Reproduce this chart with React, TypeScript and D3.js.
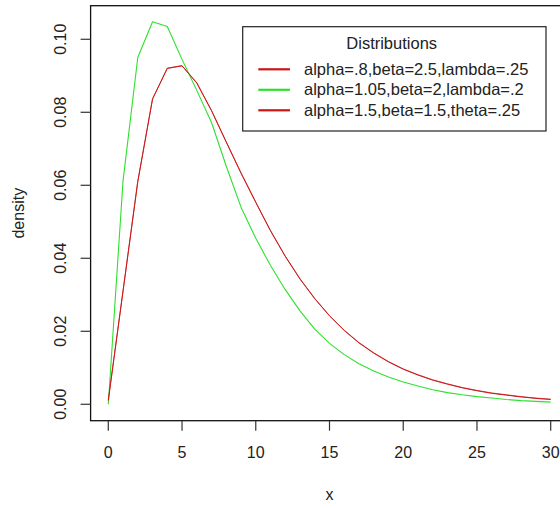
import React from "react";
import * as d3 from "d3";

const xs = [0,1,2,3,4,5,6,7,8,9,10,11,12,13,14,15,16,17,18,19,20,21,22,23,24,25,26,27,28,29,30];
const red1 = [0.0010,0.0310,0.0610,0.0836,0.0920,0.0927,0.0880,0.0804,0.0718,0.0633,0.0553,0.0475,0.0405,0.0343,0.0289,0.0242,0.0202,0.0168,0.0140,0.0116,0.0096,0.0080,0.0066,0.0055,0.0045,0.0037,0.0030,0.0025,0.0020,0.0016,0.0013];
const green = [0.0000,0.0612,0.0950,0.1048,0.1035,0.0945,0.0860,0.0772,0.0652,0.0540,0.0455,0.0380,0.0314,0.0256,0.0206,0.0167,0.0136,0.0111,0.0091,0.0075,0.0061,0.0050,0.0040,0.0032,0.0026,0.0021,0.0017,0.0013,0.0010,0.0008,0.0006];
const red2 = [0.0012,0.0311,0.0611,0.0837,0.0921,0.0928,0.0881,0.0805,0.0719,0.0634,0.0554,0.0476,0.0406,0.0344,0.0290,0.0243,0.0203,0.0169,0.0141,0.0117,0.0097,0.0081,0.0067,0.0056,0.0046,0.0038,0.0031,0.0026,0.0021,0.0017,0.0014];
const xTicks = [0,5,10,15,20,25,30];
const yTicks = [0,0.02,0.04,0.06,0.08,0.10];
const legendTitle = "Distributions";
const legendLabels = ["alpha=.8,beta=2.5,lambda=.25","alpha=1.05,beta=2,lambda=.2","alpha=1.5,beta=1.5,theta=.25"];
const RED = "#cc1414";
const GREEN = "#2ee02e";
const legendColors = [RED, GREEN, RED];

export default function App() {
  const W = 560, H = 508;
  const left = 90.6, right = 568.4, top = 5.7, bottom = 420.7;
  const x = d3.scaleLinear().domain([-1.2, 31.2]).range([left, right]);
  const y = d3.scaleLinear().domain([-0.0045, 0.1092]).range([bottom, top]);
  const line = d3.line<number>().x((_, i) => x(xs[i])).y((d) => y(d));
  const font = "'Liberation Sans', Arial, sans-serif";
  const txt = "#222";
  const series = [
    { d: green, c: GREEN, w: 1.1 },
    { d: red2, c: "#d04a4a", w: 1.0 },
    { d: red1, c: "#c81010", w: 0.9 },
  ];
  return (
    <svg width={W} height={H} style={{ position: "absolute", left: 0, top: 0, background: "#fff" }} fontFamily={font}>
      <rect x={0} y={0} width={W} height={H} fill="#fff" />
      {series.map((s, i) => (
        <path key={i} d={line(s.d) || ""} fill="none" stroke={s.c} strokeWidth={s.w} strokeLinejoin="round" />
      ))}
      <rect x={left} y={top} width={right - left} height={bottom - top} fill="none" stroke="#111" strokeWidth={1.3} />
      {xTicks.map((t) => (
        <g key={"x" + t}>
          <line x1={x(t)} x2={x(t)} y1={bottom} y2={bottom + 10} stroke="#333" strokeWidth={1.2} />
          <text x={x(t)} y={458} textAnchor="middle" fontSize={16} fill={txt}>{t}</text>
        </g>
      ))}
      {yTicks.map((t) => (
        <g key={"y" + t}>
          <line x1={left - 10} x2={left} y1={y(t)} y2={y(t)} stroke="#333" strokeWidth={1.2} />
          <text transform={`translate(66,${y(t)}) rotate(-90)`} textAnchor="middle" fontSize={16} fill={txt}>{t.toFixed(2)}</text>
        </g>
      ))}
      <text x={(left + right) / 2} y={500} textAnchor="middle" fontSize={16} fill={txt}>x</text>
      <text transform={`translate(24,${(top + bottom) / 2}) rotate(-90)`} textAnchor="middle" fontSize={16} fill={txt}>density</text>
      <rect x={242.7} y={26.7} width={303.3} height={104.3} fill="#fff" stroke="#222" strokeWidth={1.2} />
      <text x={391.7} y={48.5} textAnchor="middle" fontSize={16.5} fill={txt}>{legendTitle}</text>
      {legendLabels.map((l, i) => {
        const yy = 69.3 + i * 20.5;
        return (
          <g key={l}>
            <line x1={258.3} x2={290} y1={yy} y2={yy} stroke={legendColors[i]} strokeWidth={2.2} />
            <text x={304} y={yy + 5.5} fontSize={16.5} fill={txt}>{l}</text>
          </g>
        );
      })}
    </svg>
  );
}
